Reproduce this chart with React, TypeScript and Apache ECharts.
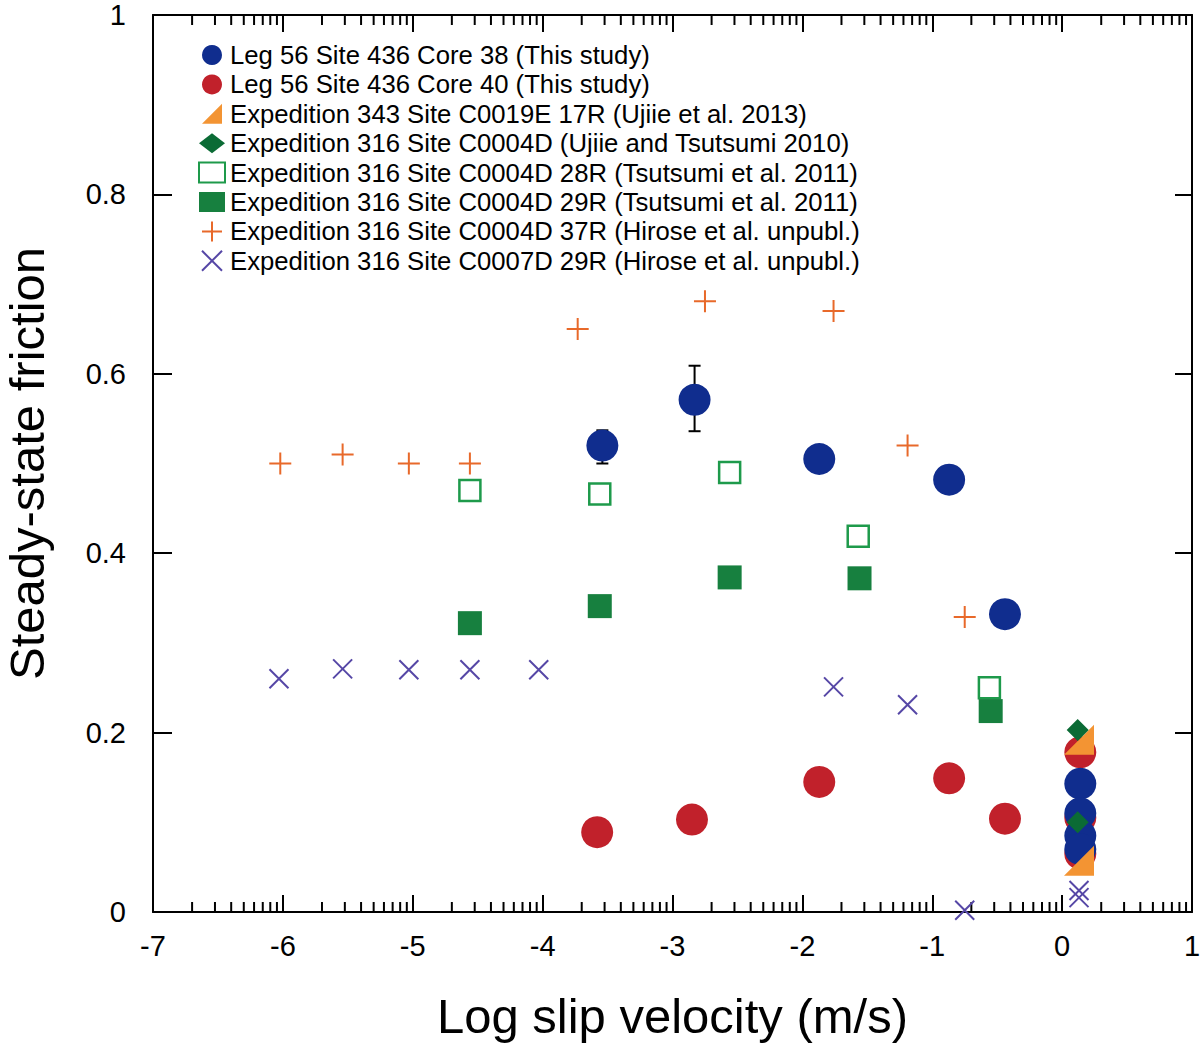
import React, { useEffect, useRef } from "react";
import * as echarts from "echarts";

const FONT = "'Liberation Sans', Arial, Helvetica, sans-serif";

const seriesNames = [
  "Leg 56 Site 436 Core 38 (This study)",
  "Leg 56 Site 436 Core 40 (This study)",
  "Expedition 343 Site C0019E 17R (Ujiie et al. 2013)",
  "Expedition 316 Site C0004D (Ujiie and Tsutsumi 2010)",
  "Expedition 316 Site C0004D 28R (Tsutsumi et al. 2011)",
  "Expedition 316 Site C0004D 29R (Tsutsumi et al. 2011)",
  "Expedition 316 Site C0004D 37R (Hirose et al. unpubl.)",
  "Expedition 316 Site C0007D 29R (Hirose et al. unpubl.)",
];

const core38 = [[-3.54, 0.52], [-2.83, 0.571], [-1.87, 0.505], [-0.87, 0.482], [-0.44, 0.332], [0.14, 0.143], [0.14, 0.11], [0.14, 0.085], [0.14, 0.07]];
const core40 = [[-3.58, 0.089], [-2.85, 0.103], [-1.87, 0.145], [-0.87, 0.149], [-0.44, 0.104], [0.14, 0.178], [0.14, 0.105], [0.14, 0.065]];
const exp343 = [[0.13, 0.192], [0.13, 0.057]];
const exp316UT = [[0.12, 0.203], [0.12, 0.1]];
const exp316R28 = [[-4.56, 0.47], [-3.56, 0.466], [-2.56, 0.49], [-1.57, 0.419], [-0.56, 0.25]];
const exp316R29 = [[-4.56, 0.322], [-3.56, 0.341], [-2.56, 0.373], [-1.56, 0.372], [-0.55, 0.224]];
const exp316R37 = [[-6.02, 0.5], [-5.54, 0.51], [-5.03, 0.5], [-4.56, 0.5], [-3.73, 0.65], [-2.75, 0.681], [-1.76, 0.67], [-1.19, 0.52], [-0.75, 0.329]];
const c0007R29 = [[-6.03, 0.26], [-5.54, 0.271], [-5.03, 0.27], [-4.56, 0.27], [-4.03, 0.27], [-1.76, 0.251], [-1.19, 0.231], [-0.75, 0.002], [0.13, 0.024], [0.13, 0.016]];
const errorBars = [[-3.54, 0.5, 0.537], [-2.83, 0.536, 0.609]];

const xMin = -7;
const xMax = 1;
const minorSteps = [2, 3, 4, 5, 6, 7, 8, 9];
const xMinorTicks: number[][] = [];
for (let d = xMin; d < xMax; d++) {
  for (const k of minorSteps) xMinorTicks.push([d + Math.log10(k), 0]);
}

const TRI = "path://M0,10L10,10L10,0Z";
const PLUS = "path://M5,0L5,10M0,5L10,5";
const CROSS = "path://M0,0L10,10M10,0L0,10";

export default function App() {
  const ref = useRef<HTMLDivElement>(null);
  useEffect(() => {
    if (!ref.current) return;
    const chart = echarts.init(ref.current, null, { renderer: "svg" });
    const axisLine = { show: true, onZero: false, lineStyle: { color: "#000", width: 2 } };
    const option: any = {
      animation: false,
      backgroundColor: "#fff",
      textStyle: { fontFamily: FONT, color: "#000" },
      grid: { left: 153, right: 8, top: 15, bottom: 133, containLabel: false, outerBoundsMode: "none" },
      legend: {
        data: seriesNames,
        orient: "vertical",
        left: 193,
        top: 37,
        itemWidth: 26,
        itemHeight: 20,
        itemGap: 3.4,
        textStyle: { fontSize: 25.7, lineHeight: 26, color: "#000", fontFamily: FONT },
        selectedMode: false,
      },
      xAxis: [
        {
          type: "value",
          position: "bottom",
          min: xMin,
          max: xMax,
          interval: 1,
          axisLine,
          axisTick: { show: true, inside: true, length: 17, lineStyle: { color: "#000", width: 2 } },
          axisLabel: { fontSize: 29, color: "#000", margin: 19, fontFamily: FONT },
          splitLine: { show: false },
          name: "Log slip velocity (m/s)",
          nameLocation: "middle",
          nameGap: 79,
          nameTextStyle: { fontSize: 49, color: "#000", fontFamily: FONT },
        },
        {
          type: "value",
          position: "top",
          min: xMin,
          max: xMax,
          interval: 1,
          axisLine,
          axisTick: { show: true, inside: true, length: 17, lineStyle: { color: "#000", width: 2 } },
          axisLabel: { show: false },
          splitLine: { show: false },
        },
      ],
      yAxis: [
        {
          type: "value",
          position: "left",
          min: 0,
          max: 1,
          interval: 0.2,
          axisLine,
          axisTick: { show: true, inside: true, length: 19, lineStyle: { color: "#000", width: 2 } },
          axisLabel: { fontSize: 29, color: "#000", margin: 27, fontFamily: FONT },
          splitLine: { show: false },
          name: "Steady-state friction",
          nameLocation: "middle",
          nameGap: 102,
          nameTextStyle: { fontSize: 49, color: "#000", fontFamily: FONT },
        },
        {
          type: "value",
          position: "right",
          min: 0,
          max: 1,
          interval: 0.2,
          axisLine,
          axisTick: { show: true, inside: true, length: 17, lineStyle: { color: "#000", width: 2 } },
          axisLabel: { show: false },
          splitLine: { show: false },
        },
      ],
      series: [
        {
          type: "custom",
          name: "minorTicks",
          silent: true,
          clip: false,
          z: 1,
          data: xMinorTicks,
          encode: { x: 0, y: 1 },
          renderItem: (_p: any, api: any) => {
            const v = api.value(0);
            const pb = api.coord([v, 0]);
            const pt = api.coord([v, 1]);
            const style = { stroke: "#000", lineWidth: 2 };
            return {
              type: "group",
              children: [
                { type: "line", shape: { x1: pb[0], y1: pb[1], x2: pb[0], y2: pb[1] - 10 }, style },
                { type: "line", shape: { x1: pt[0], y1: pt[1], x2: pt[0], y2: pt[1] + 10 }, style },
              ],
            };
          },
        },
        {
          type: "custom",
          name: "errorBars",
          silent: true,
          z: 1,
          data: errorBars,
          encode: { x: 0, y: [1, 2] },
          renderItem: (_p: any, api: any) => {
            const x = api.value(0);
            const lo = api.coord([x, api.value(1)]);
            const hi = api.coord([x, api.value(2)]);
            const style = { stroke: "#000", lineWidth: 2 };
            const w = 6;
            return {
              type: "group",
              children: [
                { type: "line", shape: { x1: lo[0], y1: lo[1], x2: hi[0], y2: hi[1] }, style },
                { type: "line", shape: { x1: lo[0] - w, y1: lo[1], x2: lo[0] + w, y2: lo[1] }, style },
                { type: "line", shape: { x1: hi[0] - w, y1: hi[1], x2: hi[0] + w, y2: hi[1] }, style },
              ],
            };
          },
        },
        {
          type: "scatter",
          name: seriesNames[0],
          data: core38,
          symbol: "circle",
          symbolSize: 32,
          z: 3,
          itemStyle: { color: "#102d8e", opacity: 1 },
        },
        {
          type: "scatter",
          name: seriesNames[1],
          data: core40,
          symbol: "circle",
          symbolSize: 32,
          z: 2,
          itemStyle: { color: "#c1212b", opacity: 1 },
        },
        {
          type: "scatter",
          name: seriesNames[2],
          data: exp343,
          symbol: TRI,
          symbolSize: 30,
          z: 4,
          itemStyle: { color: "#f39433", opacity: 1 },
        },
        {
          type: "scatter",
          name: seriesNames[3],
          data: exp316UT,
          symbol: "diamond",
          symbolSize: 22,
          z: 5,
          itemStyle: { color: "#0b6b35", opacity: 1 },
        },
        {
          type: "scatter",
          name: seriesNames[4],
          data: exp316R28,
          symbol: "rect",
          symbolSize: 21,
          z: 3,
          itemStyle: { color: "#ffffff", borderColor: "#1e9a4b", borderWidth: 2.5, opacity: 1 },
        },
        {
          type: "scatter",
          name: seriesNames[5],
          data: exp316R29,
          symbol: "rect",
          symbolSize: 24,
          z: 3,
          itemStyle: { color: "#17803f", opacity: 1 },
        },
        {
          type: "scatter",
          name: seriesNames[6],
          data: exp316R37,
          symbol: PLUS,
          symbolSize: 22,
          z: 3,
          itemStyle: { color: "#e8692a", borderColor: "#e8692a", borderWidth: 2, opacity: 1 },
        },
        {
          type: "scatter",
          name: seriesNames[7],
          data: c0007R29,
          symbol: CROSS,
          symbolSize: 19,
          z: 3,
          itemStyle: { color: "#5647a6", borderColor: "#5647a6", borderWidth: 2, opacity: 1 },
        },
      ],
    };
    chart.setOption(option);
    return () => chart.dispose();
  }, []);
  return (
    <div
      ref={ref}
      style={{ position: "fixed", left: 0, top: 0, width: 1200, height: 1045, background: "#fff" }}
    />
  );
}
